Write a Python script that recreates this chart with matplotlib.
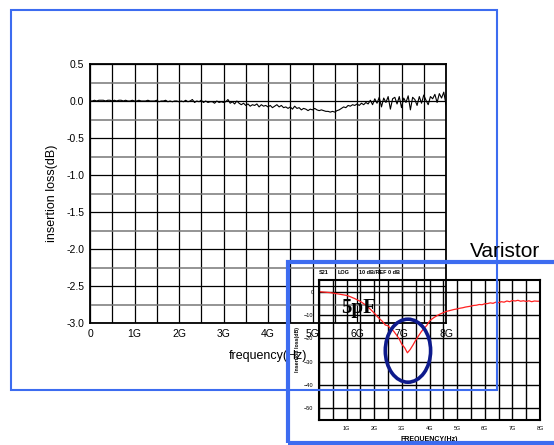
import numpy as np
import matplotlib
matplotlib.use("Agg")
import matplotlib.pyplot as plt
from matplotlib.patches import Rectangle, Ellipse
from matplotlib.ticker import MultipleLocator

plt.rcParams['font.family'] = ['Liberation Sans', 'DejaVu Sans']

# main chart: insertion loss (dB), sampled every 0.05 GHz from 0 to 8 GHz
loss_main = [
    0.00, 0.00, 0.01, 0.00, 0.01, 0.01, 0.01, 0.00, 0.01, 0.01,
    0.00, 0.01, 0.00, 0.01, 0.01, 0.00, 0.01, 0.00, 0.00, 0.01,
    0.00, 0.00, 0.01, 0.00, 0.00, 0.00, 0.01, 0.00, 0.00, 0.00,
    0.01, -0.01, 0.00, 0.00, 0.01, -0.01, 0.00, -0.01, 0.00, 0.00,
    -0.01, 0.00, -0.01, 0.01, -0.01, 0.00, 0.02, -0.02, 0.00, -0.01,
    0.01, -0.02, 0.00, -0.02, -0.01, -0.01, -0.03, 0.00, -0.02, -0.01,
    -0.02, -0.01, 0.02, -0.03, -0.01, -0.04, 0.00, -0.03, -0.05, -0.03,
    -0.06, -0.04, -0.07, -0.05, -0.06, -0.04, -0.08, -0.05, -0.07, -0.06,
    -0.08, -0.06, -0.09, -0.07, -0.05, -0.08, -0.06, -0.09, -0.08, -0.10,
    -0.08, -0.11, -0.07, -0.10, -0.09, -0.12, -0.10, -0.11, -0.13, -0.11,
    -0.12, -0.10, -0.12, -0.13, -0.12, -0.13, -0.14, -0.14, -0.15, -0.14,
    -0.15, -0.13, -0.12, -0.10, -0.08, -0.09, -0.06, -0.07, -0.05, -0.06,
    -0.04, -0.06, -0.03, -0.05, -0.02, -0.04, 0.01, -0.05, 0.03, -0.03,
    0.05, -0.08, 0.04, -0.02, 0.06, -0.11, 0.03, 0.05, -0.04, 0.06,
    -0.09, 0.04, -0.02, 0.07, -0.12, 0.05, 0.02, -0.06, 0.06, -0.03,
    0.08, 0.01, -0.05, 0.06, 0.03, 0.09, -0.02, 0.10, 0.04, 0.12,
    -0.05,
]
freq_main = np.linspace(0, 8, len(loss_main))

# inset: varistor S21 (dB), sampled every 0.1 GHz
loss_var = [
    0.0, -0.1, -0.2, -0.3, -0.4, -0.6, -0.8, -1.0, -1.2, -1.4,
    -1.6, -2.0, -2.5, -3.0, -3.6, -4.2, -5.0, -5.8, -6.9, -8.0,
    -9.2, -10.5, -11.7, -12.8, -14.3, -14.6, -16.0, -16.9, -18.5, -20.2,
    -22.6, -24.0, -26.2, -24.8, -22.9, -20.8, -19.0, -17.2, -15.7, -14.5,
    -12.6, -11.6, -10.8, -10.1, -9.5, -9.0, -8.5, -8.2, -7.9, -7.6,
    -7.4, -7.1, -6.9, -6.6, -6.4, -6.2, -5.9, -5.8, -5.5, -5.6,
    -5.2, -5.1, -4.8, -5.0, -4.5, -4.7, -4.3, -4.5, -4.0, -4.3,
    -3.8, -4.0, -3.7, -4.1, -3.9, -4.2, -3.9, -4.3, -4.0, -4.1,
    -4.1,
]
freq_var = np.linspace(0, 8, len(loss_var))

main_xticks = [0, 1, 2, 3, 4, 5, 6, 7, 8]
main_xlabels = ["0", "1G", "2G", "3G", "4G", "5G", "6G", "7G", "8G"]
main_yticks = [0.5, 0.0, -0.5, -1.0, -1.5, -2.0, -2.5, -3.0]
var_xticks = [1, 2, 3, 4, 5, 6, 7, 8]
var_xlabels = ["1G", "2G", "3G", "4G", "5G", "6G", "7G", "8G"]
var_yticks = [0, -10, -20, -30, -40, -50]

W, H = 554, 445
fig = plt.figure(figsize=(W / 100, H / 100), dpi=100)
blue = '#3d6cf0'


def px(x0, y0, x1, y1):
    return [x0 / W, 1 - y1 / H, (x1 - x0) / W, (y1 - y0) / H]


# main chart
ax = fig.add_axes(px(90, 64, 446, 323))
ax.plot(freq_main, loss_main, color='black', lw=0.8)
ax.set_xlim(0, 8)
ax.set_ylim(-3.0, 0.5)
ax.set_xticks(main_xticks)
ax.set_xticklabels(main_xlabels)
ax.set_yticks(main_yticks)
ax.set_yticklabels([f"{v:.1f}" for v in main_yticks])
ax.xaxis.set_minor_locator(MultipleLocator(0.5))
ax.yaxis.set_minor_locator(MultipleLocator(0.25))
ax.grid(True, which='major', color='black', lw=0.9)
ax.grid(True, which='minor', axis='x', color='black', lw=0.9)
ax.grid(True, which='minor', axis='y', color='#777777', lw=1.1)
ax.tick_params(which='both', length=0, labelsize=7.5, pad=4)
for s in ax.spines.values():
    s.set_linewidth(1.3)
ax.set_xlabel("frequency(Hz)", fontsize=9, labelpad=8)
ax.set_ylabel("insertion loss(dB)", fontsize=9, labelpad=6)

# inset chart (transparent, overlaid)
ins = fig.add_axes(px(319, 280, 540, 420))
ins.patch.set_alpha(0)
ins.plot(freq_var, loss_var, color='#ff2020', lw=0.9)
ins.set_xlim(0, 8)
ins.set_ylim(-55, 5)
ins.set_xticks(var_xticks)
ins.set_xticklabels(var_xlabels)
ins.set_yticks(var_yticks)
ins.xaxis.set_minor_locator(MultipleLocator(0.5))
ins.grid(True, which='both', axis='x', color='black', lw=1.0)
ins.grid(True, which='major', axis='y', color='black', lw=1.0)
ins.tick_params(which='both', length=0, labelsize=4, pad=4)
for s in ins.spines.values():
    s.set_linewidth(1.5)
ins.set_xlabel("FREQUENCY(Hz)", fontsize=5, fontweight='bold', labelpad=4)
ins.set_ylabel("Insertion loss(dB)", fontsize=3.8, fontweight='bold', labelpad=3)
ins.text(0.0, 1.045, "S21", transform=ins.transAxes, fontsize=4, fontweight='bold')
ins.text(0.085, 1.045, "LOG", transform=ins.transAxes, fontsize=4, fontweight='bold')
ins.text(0.18, 1.045, "10 dB/REF 0 dB", transform=ins.transAxes, fontsize=4, fontweight='bold')
ins.text(0.8, -9.0, "5pF", fontsize=15, fontweight='bold',
         family=['Liberation Serif', 'DejaVu Serif'])
ins.add_patch(Ellipse((3.22, -25.3), 1.64, 27, fill=False,
                      edgecolor='#0d1a8c', lw=2.6, zorder=5))

# blue frames and label
fig.patches.append(Rectangle((11 / W, 1 - 390 / H), 486 / W, 380 / H,
                             transform=fig.transFigure, fill=False,
                             edgecolor=blue, lw=1.5))
fig.patches.append(Rectangle((288 / W, 1 - 443 / H), 280 / W, 181 / H,
                             transform=fig.transFigure, fill=False,
                             edgecolor=blue, lw=3))
fig.text(470 / W, 1 - 257 / H, "Varistor", fontsize=15, color='black')

fig.savefig("out.png", dpi=100)
